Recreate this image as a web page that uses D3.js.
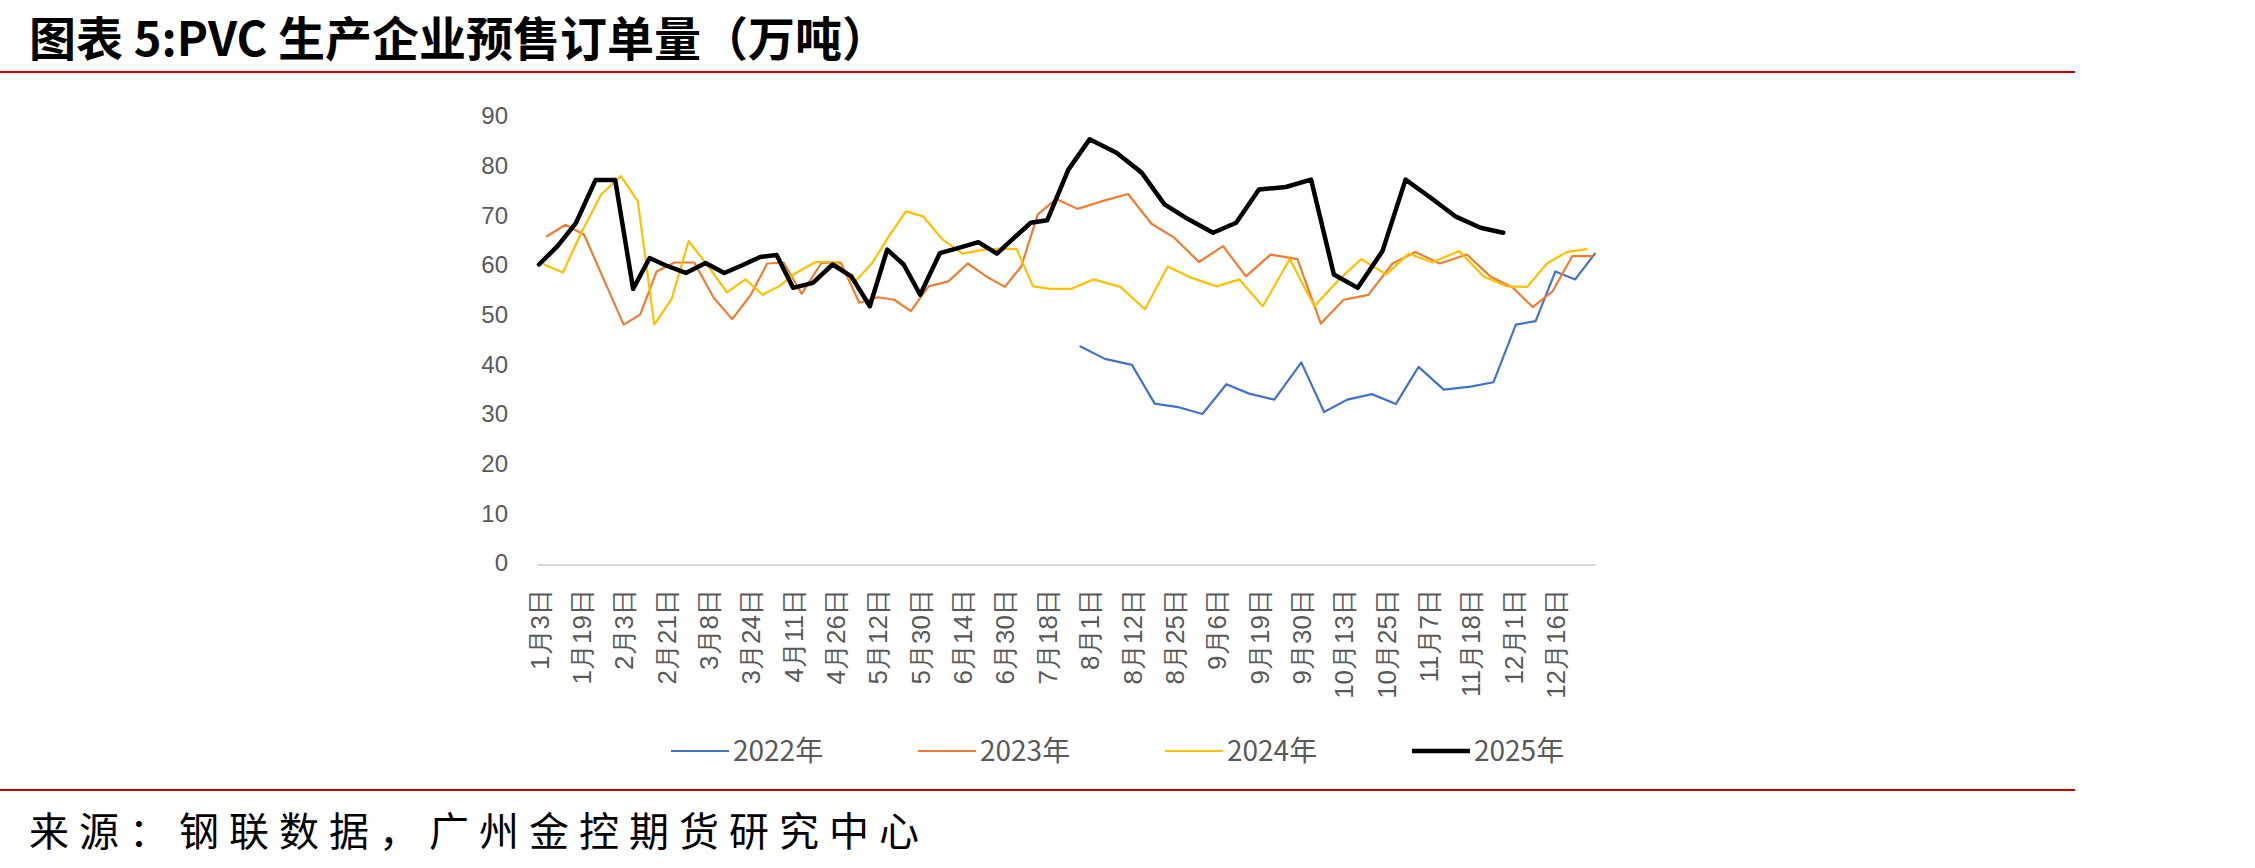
<!DOCTYPE html>
<html lang="zh">
<head>
<meta charset="UTF-8">
<title>PVC 生产企业预售订单量</title>
<script src="https://cdn.jsdelivr.net/npm/d3@7"></script>
<style>
  body { margin: 0; background: #fff; }
  svg { display: block; }
  .tick text { fill: #595959; }
</style>
</head>
<body>
<svg id="chart"></svg>
<script>
const W = 2255, H = 868;

// x-axis labels (only every other category is labelled in the original)
const tickLabels = ["1月3日", "1月19日", "2月3日", "2月21日", "3月8日", "3月24日", "4月11日", "4月26日",
  "5月12日", "5月30日", "6月14日", "6月30日", "7月18日", "8月1日", "8月12日", "8月25日", "9月6日",
  "9月19日", "9月30日", "10月13日", "10月25日", "11月7日", "11月18日", "12月1日", "12月16日"];

const yTicks = [0, 10, 20, 30, 40, 50, 60, 70, 80, 90];

const seriesNames = ["2022年", "2023年", "2024年", "2025年"];
const seriesColors = ["#4472C4", "#ED7D31", "#FFC000", "#000000"];
const seriesWidths = [2.2, 2.2, 2.2, 4.5];

// weekly data, first date of each year
const startDates = ["2022-07-29", "2023-01-06", "2024-01-05", "2025-01-03"];

const values2022 = [43.6, 41.1, 39.9, 32.1, 31.4, 30.0, 36.0, 34.1, 32.9, 40.4, 30.4, 32.9, 34.0, 32.0,
  39.5, 34.9, 35.5, 36.4, 48.0, 48.7, 58.7, 57.1, 62.3];

const values2023 = [65.8, 68.1, 66.1, 57.0, 48.0, 50.0, 58.7, 60.5, 60.5, 53.4, 49.1, 54.0, 60.3, 60.5,
  54.2, 60.4, 60.5, 52.4, 53.5, 53.0, 50.7, 55.7, 56.7, 60.3, 57.7, 55.6, 59.7, 70.2, 73.3, 71.3,
  72.8, 74.3, 68.3, 65.5, 60.6, 63.8, 57.7, 62.1, 61.2, 48.2, 53.0, 54.0, 60.3, 62.6, 60.3, 62.1,
  57.7, 55.4, 51.5, 54.7, 61.8, 61.8];

const values2024 = [60.1, 58.5, 66.5, 74.2, 77.9, 72.8, 48.0, 53.2, 64.8, 59.7, 54.5, 57.1, 54.0, 55.7,
  58.4, 60.6, 60.6, 56.4, 60.5, 66.0, 70.8, 69.8, 65.1, 62.3, 63.0, 63.3, 63.2, 55.7, 55.2, 55.2,
  57.1, 55.6, 51.1, 59.7, 57.4, 55.7, 57.1, 51.7, 61.2, 51.7, 56.7, 61.2, 58.1, 62.3, 60.5, 62.8,
  57.7, 55.7, 55.6, 60.3, 62.6, 63.2];

const values2025 = [60.1, 63.8, 68.5, 77.1, 77.1, 55.2, 61.4, 59.9, 58.4, 60.4, 58.4, 60.0, 61.6, 62.0,
  55.4, 56.4, 60.1, 57.7, 51.7, 63.1, 60.1, 54.0, 62.4, 63.5, 64.6, 62.3, 65.5, 68.5, 69.0, 79.2,
  85.3, 82.6, 78.6, 72.2, 69.2, 66.5, 68.5, 75.2, 75.7, 77.2, 58.1, 55.4, 62.8, 77.2, 73.9, 69.8,
  67.5, 66.5];

const allValues = [values2022, values2023, values2024, values2025];

// every year is placed on one Jan-Dec axis (reference year 2025)
const REF_YEAR = 2025;
function labelToDate(s) {
  const m = s.match(/(\d+)月(\d+)日/);
  return new Date(REF_YEAR, +m[1] - 1, +m[2]);
}
function weeklyDates(start, n) {
  const d0 = new Date(start + "T00:00:00");
  return d3.range(n).map(i => {
    const d = d3.timeDay.offset(d0, 7 * i);
    return new Date(REF_YEAR, d.getMonth(), d.getDate());
  });
}

const tickDates = tickLabels.map(labelToDate);
const series = seriesNames.map((name, k) => {
  const dates = weeklyDates(startDates[k], allValues[k].length);
  return { name, color: seriesColors[k], width: seriesWidths[k],
    points: allValues[k].map((v, i) => ({ date: dates[i], value: v })) };
});

const plotLeft = 539, labelStep = 42.35;
const axisY = 565;

// labels are evenly spaced, so map each label date to an even slot
const x = d3.scaleTime()
  .domain(tickDates)
  .range(tickDates.map((d, i) => plotLeft + i * labelStep));

const y = d3.scaleLinear().domain([0, 90]).range([563, 116]);

const svg = d3.select("#chart").attr("width", W).attr("height", H)
  .style("font-family", "'Noto Sans CJK SC', 'Liberation Sans', sans-serif");

svg.append("rect").attr("width", W).attr("height", H).attr("fill", "#fff");

// title and red rules
svg.append("text")
  .attr("x", 29).attr("y", 56)
  .attr("font-size", 47).attr("font-weight", 700)
  .attr("fill", "#000")
  .text("图表 5:PVC 生产企业预售订单量（万吨）");

svg.append("line").attr("x1", 0).attr("x2", 2075).attr("y1", 72).attr("y2", 72)
  .attr("stroke", "#C00000").attr("stroke-width", 2);
svg.append("line").attr("x1", 0).attr("x2", 2075).attr("y1", 790).attr("y2", 790)
  .attr("stroke", "#C00000").attr("stroke-width", 2);

svg.append("text")
  .attr("x", 29).attr("y", 846)
  .attr("font-size", 40).attr("letter-spacing", 10)
  .attr("fill", "#000")
  .text("来源：钢联数据，广州金控期货研究中心");

// y axis
const yAxis = svg.append("g").attr("transform", "translate(515,0)")
  .call(d3.axisLeft(y).tickValues(yTicks).tickSize(0).tickPadding(7));
yAxis.select(".domain").remove();
yAxis.selectAll("text").attr("font-size", 24).attr("font-family", "'Liberation Sans', sans-serif");

// x axis
const lastDate = d3.max(series, s => d3.max(s.points, p => p.date));
svg.append("line")
  .attr("x1", plotLeft - 2).attr("x2", x(lastDate) + 1)
  .attr("y1", axisY).attr("y2", axisY)
  .attr("stroke", "#d9d9d9").attr("stroke-width", 2);

const xAxis = svg.append("g").attr("transform", `translate(0,${axisY})`)
  .call(d3.axisBottom(x).tickValues(tickDates).tickFormat((d, i) => tickLabels[i]).tickSize(0));
xAxis.select(".domain").remove();
xAxis.selectAll("text")
  .attr("font-size", 26)
  .attr("transform", "rotate(-90)")
  .attr("x", -24).attr("y", 0).attr("dy", "0.35em")
  .style("text-anchor", "end");

// lines
const line = d3.line().x(d => x(d.date)).y(d => y(d.value));
svg.append("g").selectAll("path")
  .data(series)
  .join("path")
  .attr("d", d => line(d.points))
  .attr("fill", "none")
  .attr("stroke", d => d.color)
  .attr("stroke-width", d => d.width)
  .attr("stroke-linejoin", "round")
  .attr("stroke-linecap", "round");

// legend
const legend = svg.append("g").attr("transform", "translate(671,751)");
const item = legend.selectAll("g").data(series).join("g")
  .attr("transform", (d, i) => `translate(${i * 247},0)`);
item.append("line").attr("x1", 0).attr("x2", 58)
  .attr("stroke", d => d.color).attr("stroke-width", d => d.width);
item.append("text").attr("x", 62).attr("dy", "0.35em")
  .attr("font-size", 28).attr("fill", "#595959")
  .text(d => d.name);
</script>
</body>
</html>
